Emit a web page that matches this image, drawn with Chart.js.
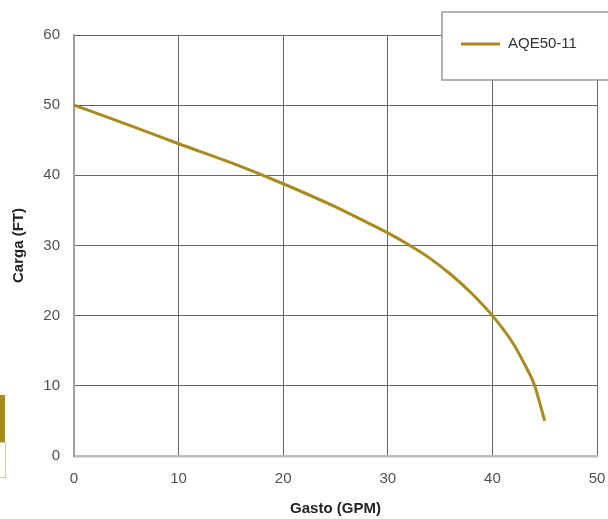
<!DOCTYPE html>
<html>
<head>
<meta charset="utf-8">
<script src="https://cdn.jsdelivr.net/npm/chart.js@4.4.0/dist/chart.umd.min.js"></script>
<style>
    html, body { margin: 0; padding: 0; background: #fff; }
    #wrap { width: 608px; height: 519px; }
</style>
</head>
<body>
<div id="wrap"><canvas id="chart" width="608" height="519"></canvas></div>
<script>
// curve
const seriesName = "AQE50-11";
const gastoGPM = [0, 5, 10, 15, 20, 25, 28, 30, 32, 34, 36, 38, 40, 42, 43, 44, 45];
const cargaFT = [50, 47.3, 44.5, 41.8, 38.8, 35.5, 33.3, 31.8, 30.1, 28.2, 25.9, 23.2, 20, 16, 13.3, 10.2, 5];
const xTicks = [0, 10, 20, 30, 40, 50];
const yTicks = [0, 10, 20, 30, 40, 50, 60];

const lineColor = "#a88a1e";
const font = "'Liberation Sans', Arial, sans-serif";

// boxed legend sitting over the top right corner of the grid
const boxLegend = {
    id: "boxLegend",
    afterDraw(chart) {
        const ctx = chart.ctx;
        const ds = chart.data.datasets[0];
        ctx.save();
        ctx.fillStyle = "#fff";
        ctx.fillRect(442, 12, 180, 68);
        ctx.strokeStyle = "#999";
        ctx.lineWidth = 1.5;
        ctx.strokeRect(442, 12, 180, 68);
        ctx.strokeStyle = ds.borderColor;
        ctx.lineWidth = 3;
        ctx.beginPath();
        ctx.moveTo(461, 44);
        ctx.lineTo(500, 44);
        ctx.stroke();
        ctx.fillStyle = "#333";
        ctx.font = "15px " + font;
        ctx.textBaseline = "middle";
        ctx.fillText(ds.label, 508, 44);

        // cut-off piece of a neighbouring figure at the left edge
        ctx.fillStyle = "#a8891c";
        ctx.fillRect(0, 395, 5, 47);
        ctx.strokeStyle = "#d8cfa8";
        ctx.lineWidth = 1;
        ctx.strokeRect(-2, 442.5, 7.5, 35);
        ctx.restore();
    }
};

new Chart(document.getElementById("chart"), {
    type: "line",
    data: {
        datasets: [{
            label: seriesName,
            data: gastoGPM.map((x, i) => ({ x: x, y: cargaFT[i] })),
            borderColor: lineColor,
            backgroundColor: lineColor,
            borderWidth: 3,
            pointRadius: 0,
            cubicInterpolationMode: "monotone",
            fill: false
        }]
    },
    options: {
        responsive: false,
        animation: false,
        layout: { padding: { top: 35, right: 11, bottom: 0, left: 0 } },
        plugins: {
            legend: { display: false },
            tooltip: { enabled: false }
        },
        scales: {
            x: {
                type: "linear",
                min: 0,
                max: 50,
                afterBuildTicks: (scale) => { scale.ticks = xTicks.map(v => ({ value: v })); },
                afterFit: (scale) => {
                    scale.height = 63;
                    scale.paddingRight = 0;
                    scale.paddingLeft = 0;
                },
                grid: { color: "#666", lineWidth: 1, drawTicks: false },
                border: { color: "#bdbdbd", width: 2.5 },
                ticks: { color: "#505050", padding: 14, font: { family: font, size: 15 } },
                title: {
                    display: true,
                    text: "Gasto (GPM)",
                    color: "#222",
                    padding: { top: 0, bottom: 1.5 },
                    font: { family: font, size: 15, weight: "bold" }
                }
            },
            y: {
                type: "linear",
                min: 0,
                max: 60,
                afterBuildTicks: (scale) => { scale.ticks = yTicks.map(v => ({ value: v })); },
                afterFit: (scale) => { scale.width = 74; },
                grid: { color: "#666", lineWidth: 1, drawTicks: false },
                border: { color: "#a0a0a0", width: 2 },
                ticks: { color: "#505050", padding: 14, font: { family: font, size: 15 } },
                title: {
                    display: true,
                    text: "Carga (FT)",
                    color: "#222",
                    padding: { top: 10, bottom: 0 },
                    font: { family: font, size: 15, weight: "bold" }
                }
            }
        }
    },
    plugins: [boxLegend]
});
</script>
</body>
</html>
